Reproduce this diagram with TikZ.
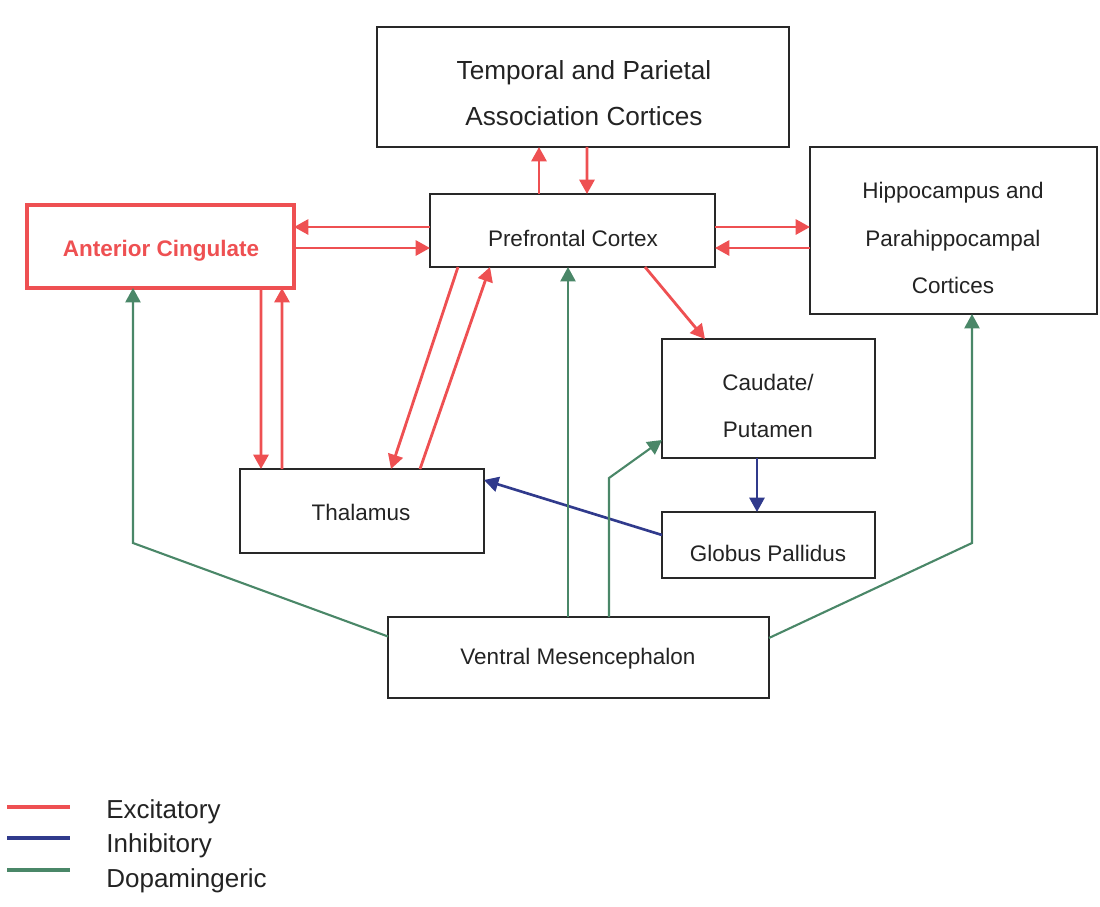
\documentclass[tikz,border=0pt]{standalone}
\usepackage{fontspec}
\setmainfont{Liberation Sans}
\usetikzlibrary{arrows.meta,calc}
\definecolor{cExc}{RGB}{238,80,82}
\definecolor{cInh}{RGB}{48,58,140}
\definecolor{cDop}{RGB}{74,135,104}
\definecolor{cBox}{RGB}{40,40,40}
\definecolor{cTxt}{RGB}{35,35,35}
\begin{document}
\begin{tikzpicture}[x=0.02cm,y=-0.02cm,
  box/.style={draw=cBox, line width=1.2pt, inner sep=0pt, outer sep=0pt},
  acbox/.style={draw=cExc, line width=2.4pt, inner sep=0pt, outer sep=0pt},
  lbl/.style={text=cTxt, font=\fontsize{12.8}{27.2}\selectfont, align=center, inner sep=0pt},
  biglbl/.style={text=cTxt, font=\fontsize{14.9}{26.1}\selectfont, align=center, inner sep=0pt},
  aclbl/.style={text=cExc, font=\fontsize{12.8}{15}\selectfont\bfseries, inner sep=0pt},
  leglbl/.style={text=cTxt, font=\fontsize{14.8}{17}\selectfont, anchor=base west, inner sep=0pt},
  tip/.style={-{Triangle[length=8.2pt,width=8.6pt]}},
  excarrow/.style={draw=cExc, line width=1.6pt, tip},
  inharrow/.style={draw=cInh, line width=1.5pt, tip},
  doparrow/.style={draw=cDop, line width=1.2pt, tip},
  legline/.style={line width=1.8pt}
]
\useasboundingbox (0,0) rectangle (1100,907);

% boxes
\node[box, minimum width=8.24cm, minimum height=2.40cm] (temp) at (583,87) {};
\node[box, minimum width=5.70cm, minimum height=1.46cm] (pfc) at (572.5,230.5) {};
\node[acbox, minimum width=5.34cm, minimum height=1.66cm] (ac) at (160.5,246.5) {};
\node[box, minimum width=5.74cm, minimum height=3.34cm] (hip) at (953.5,230.5) {};
\node[box, minimum width=4.26cm, minimum height=2.38cm] (cau) at (768.5,398.5) {};
\node[box, minimum width=4.88cm, minimum height=1.68cm] (thal) at (362,511) {};
\node[box, minimum width=4.26cm, minimum height=1.32cm] (gp) at (768.5,545) {};
\node[box, minimum width=7.62cm, minimum height=1.62cm] (vm) at (578.5,657.5) {};

% labels
\node[biglbl] (tempT) at (584,93) {Temporal and Parietal\\Association Cortices};
\node[lbl] (pfcT) at (573,238) {Prefrontal Cortex};
\node[aclbl] (acT) at (161,251) {Anterior Cingulate};
\node[lbl] (hipT) at (953,238) {Hippocampus and\\Parahippocampal\\Cortices};
\node[lbl, font=\fontsize{12.8}{26.6}\selectfont] (cauT) at (768,406) {Caudate/\\Putamen};
\node[lbl] (thalT) at (361,512) {Thalamus};
\node[lbl] (gpT) at (768,553) {Globus Pallidus};
\node[lbl] (vmT) at (578,659) {Ventral Mesencephalon};

% excitatory connectors
\draw[excarrow] ($(pfc.north)+(-33.5,0)$) -- ($(temp.south)+(-44,0)$);
\draw[excarrow] ($(temp.south)+(4,0)$) -- ($(pfc.north)+(14.5,0)$);
\draw[excarrow] ($(pfc.west)+(0,-3.5)$) -- ($(ac.east)+(0,-19.5)$);
\draw[excarrow] ($(ac.east)+(0,1.5)$) -- ($(pfc.west)+(0,17.5)$);
\draw[excarrow] ($(pfc.east)+(0,-3.5)$) -- ($(hip.west)+(0,-3.5)$);
\draw[excarrow] ($(hip.west)+(0,17.5)$) -- ($(pfc.east)+(0,17.5)$);
\draw[excarrow] ($(ac.south)+(100.5,0)$) -- ($(thal.north)+(-101,0)$);
\draw[excarrow] ($(thal.north)+(-80,0)$) -- ($(ac.south)+(121.5,0)$);
\draw[excarrow] ($(pfc.south)+(-114.5,0)$) -- ($(thal.north)+(29,0)$);
\draw[excarrow] ($(thal.north)+(58,0)$) -- ($(pfc.south)+(-82.5,0)$);
\draw[excarrow] ($(pfc.south)+(72.5,0)$) -- ($(cau.north)+(-63.5,0)$);

% inhibitory connectors
\draw[inharrow] ($(cau.south)+(-11.5,0)$) -- ($(gp.north)+(-11.5,0)$);
\draw[inharrow] ($(gp.west)+(0,-10)$) -- ($(thal.east)+(0,-31)$);

% dopaminergic connectors
\draw[doparrow] ($(vm.west)+(0,-21)$) -- (133,543) -- ($(ac.south)+(-27.5,0)$);
\draw[doparrow] ($(vm.north)+(-10.5,0)$) -- ($(pfc.south)+(-4.5,0)$);
\draw[doparrow] ($(vm.north)+(30.5,0)$) -- (609,478) -- ($(cau.west)+(0,41.5)$);
\draw[doparrow] ($(vm.east)+(0,-19.5)$) -- (972,543) -- ($(hip.south)+(18.5,0)$);

% legend
\coordinate (l1a) at (7,807); \coordinate (l1b) at (70,807);
\coordinate (l2a) at (7,838); \coordinate (l2b) at (70,838);
\coordinate (l3a) at (7,870); \coordinate (l3b) at (70,870);
\draw[legline, cExc] (l1a) -- (l1b);
\draw[legline, cInh] (l2a) -- (l2b);
\draw[legline, cDop] (l3a) -- (l3b);
\node[leglbl] (legE) at (106,818) {Excitatory};
\node[leglbl] (legI) at (106,852) {Inhibitory};
\node[leglbl] (legD) at (106,887) {Dopamingeric};
\end{tikzpicture}
\end{document}
